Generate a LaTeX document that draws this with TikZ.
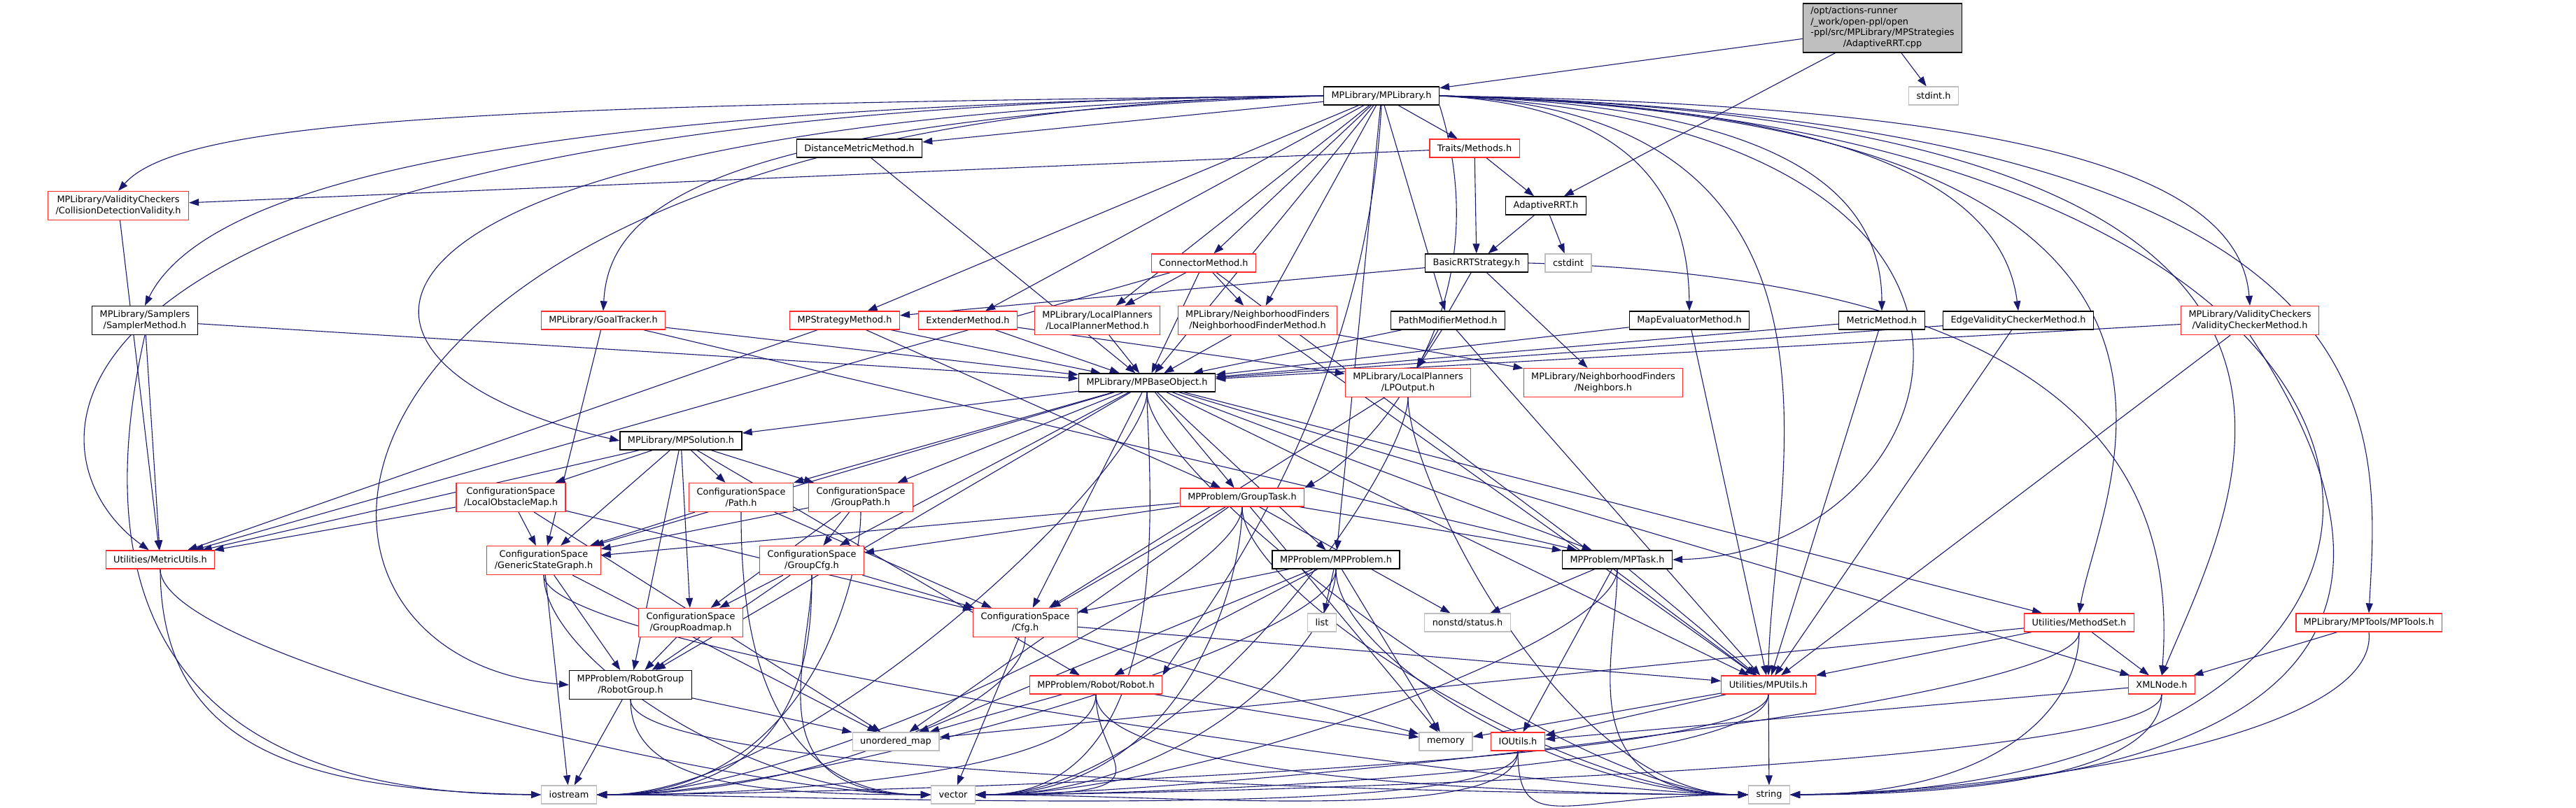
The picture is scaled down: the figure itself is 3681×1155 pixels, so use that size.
\documentclass[tikz,border=0pt]{standalone}
\usepackage{fontspec}
\setmainfont{DejaVu Sans}
\usepackage{tikz}
\usetikzlibrary{arrows.meta,backgrounds}
\usepackage{xcolor}
\definecolor{edgecol}{HTML}{191970}
\definecolor{extgray}{HTML}{BFBFBF}
\definecolor{truncred}{HTML}{FF2A2A}

\begin{document}
\begin{tikzpicture}[x=1pt, y=-1pt,
  every node/.style={font=\fontsize{12.9}{15.5}\selectfont},
  hdr/.style={rectangle, draw=black, line width=1.3pt, fill=white,
              inner xsep=11pt, inner ysep=2pt, minimum height=26pt, align=center},
  trunc/.style={hdr, draw=truncred},
  ext/.style={hdr, draw=extgray},
  rootbox/.style={hdr, fill=extgray, minimum height=70pt},
  two/.style={minimum height=41pt},
  dep/.style={draw=edgecol, line width=1.1pt, -{Triangle[length=14pt,width=10pt]}},
]
  \useasboundingbox (0,0) rectangle (3681,1155);

  \node[rootbox] (root) at (2690,40) {\begin{tabular}{@{}l@{}}/opt/actions-runner\\/\_work/open-ppl/open\\-ppl/src/MPLibrary/MPStrategies\\\multicolumn{1}{@{}c@{}}{/AdaptiveRRT.cpp}\end{tabular}};

  \node[hdr] (mplib) at (1974,137) {MPLibrary/MPLibrary.h};
  \node[ext] (stdint) at (2763,137) {stdint.h};
  \node[hdr] (distmetric) at (1228,212) {DistanceMetricMethod.h};
  \node[trunc] (methods) at (2107,212) {Traits/Methods.h};
  \node[trunc,two] (cdvalid) at (169,294) {MPLibrary/ValidityCheckers\\/CollisionDetectionValidity.h};
  \node[hdr] (adaptive) at (2209,294) {AdaptiveRRT.h};
  \node[trunc] (connector) at (1720,376) {ConnectorMethod.h};
  \node[hdr] (basicrrt) at (2110,376) {BasicRRTStrategy.h};
  \node[ext] (cstdint) at (2241,376) {cstdint};

  \node[hdr,two] (sampler) at (207,458) {MPLibrary/Samplers\\/SamplerMethod.h};
  \node[trunc] (goaltracker) at (862,458) {MPLibrary/GoalTracker.h};
  \node[trunc] (strategy) at (1207,458) {MPStrategyMethod.h};
  \node[trunc] (extender) at (1383,458) {ExtenderMethod.h};
  \node[trunc,two] (lpmethod) at (1568,458) {MPLibrary/LocalPlanners\\/LocalPlannerMethod.h};
  \node[trunc,two] (nfmethod) at (1797,458) {MPLibrary/NeighborhoodFinders\\/NeighborhoodFinderMethod.h};
  \node[hdr] (pathmod) at (2069,458) {PathModifierMethod.h};
  \node[hdr] (mapeval) at (2414,458) {MapEvaluatorMethod.h};
  \node[hdr] (metricm) at (2689,458) {MetricMethod.h};
  \node[hdr] (edgevc) at (2884,458) {EdgeValidityCheckerMethod.h};
  \node[trunc,two] (vcmethod) at (3215,458) {MPLibrary/ValidityCheckers\\/ValidityCheckerMethod.h};

  \node[hdr] (baseobj) at (1639,547) {MPLibrary/MPBaseObject.h};
  \node[trunc,two] (lpoutput) at (2012,547) {MPLibrary/LocalPlanners\\/LPOutput.h};
  \node[trunc,two] (neighbors) at (2291,547) {MPLibrary/NeighborhoodFinders\\/Neighbors.h};
  \node[hdr] (solution) at (973,630) {MPLibrary/MPSolution.h};

  \node[trunc,two] (obstmap) at (730,711) {ConfigurationSpace\\/LocalObstacleMap.h};
  \node[trunc,two] (path) at (1059,711) {ConfigurationSpace\\/Path.h};
  \node[trunc,two] (grouppath) at (1230,711) {ConfigurationSpace\\/GroupPath.h};
  \node[trunc] (grouptask) at (1775,711) {MPProblem/GroupTask.h};

  \node[trunc] (metricutils) at (229,800) {Utilities/MetricUtils.h};
  \node[trunc,two] (gsg) at (777,801) {ConfigurationSpace\\/GenericStateGraph.h};
  \node[trunc,two] (groupcfg) at (1160,801) {ConfigurationSpace\\/GroupCfg.h};
  \node[hdr] (mpproblem) at (1909,800) {MPProblem/MPProblem.h};
  \node[hdr] (mptask) at (2311,800) {MPProblem/MPTask.h};

  \node[trunc,two] (grouproadmap) at (987,890) {ConfigurationSpace\\/GroupRoadmap.h};
  \node[trunc,two] (cfg) at (1465,890) {ConfigurationSpace\\/Cfg.h};
  \node[ext] (list) at (1889,890) {list};
  \node[ext] (status) at (2097,890) {nonstd/status.h};
  \node[trunc] (methodset) at (2971,890) {Utilities/MethodSet.h};
  \node[trunc] (mptools) at (3385,890) {MPLibrary/MPTools/MPTools.h};

  \node[hdr,two] (robotgroup) at (901,979) {MPProblem/RobotGroup\\/RobotGroup.h};
  \node[trunc] (robot) at (1566,979) {MPProblem/Robot/Robot.h};
  \node[trunc] (mputils) at (2527,979) {Utilities/MPUtils.h};
  \node[trunc] (xmlnode) at (3089,979) {XMLNode.h};

  \node[ext] (umap) at (1280,1060) {unordered\_map};
  \node[ext] (memory) at (2066,1060) {memory};
  \node[trunc] (ioutils) at (2169,1060) {IOUtils.h};

  \node[ext] (iostream) at (813,1136) {iostream};
  \node[ext] (vector) at (1362,1136) {vector};
  \node[ext] (string) at (2528,1136) {string};

  \begin{scope}[on background layer]
    \foreach \s/\t in {root/mplib, root/adaptive, root/stdint,
        mplib/distmetric, mplib/methods, mplib/connector, mplib/strategy, mplib/extender,
        mplib/lpmethod, mplib/nfmethod, mplib/pathmod, mplib/baseobj, mplib/mpproblem,
        methods/adaptive, methods/basicrrt, methods/cdvalid,
        adaptive/basicrrt, adaptive/cstdint,
        basicrrt/strategy, basicrrt/lpoutput, basicrrt/neighbors,
        connector/lpmethod, connector/nfmethod, connector/baseobj, connector/metricutils, connector/mputils,
        distmetric/baseobj, cdvalid/metricutils,
        sampler/baseobj, sampler/metricutils,
        goaltracker/baseobj, goaltracker/gsg, goaltracker/mptask,
        strategy/baseobj, strategy/metricutils, strategy/grouptask,
        extender/baseobj, extender/lpoutput, lpmethod/baseobj,
        nfmethod/baseobj, nfmethod/neighbors, nfmethod/mputils,
        pathmod/baseobj, pathmod/lpoutput, pathmod/mputils,
        mapeval/baseobj, mapeval/mputils, metricm/baseobj, metricm/mputils,
        edgevc/baseobj, edgevc/mputils, vcmethod/baseobj, vcmethod/mputils,
        baseobj/solution, baseobj/path, baseobj/grouppath, baseobj/gsg, baseobj/groupcfg,
        baseobj/cfg, baseobj/grouptask, baseobj/mpproblem, baseobj/mptask, baseobj/methodset,
        baseobj/mputils, baseobj/xmlnode, baseobj/robotgroup,
        lpoutput/cfg,
        solution/obstmap, solution/path, solution/grouppath, solution/gsg, solution/grouproadmap,
        solution/metricutils, solution/robotgroup, solution/robot,
        obstmap/metricutils, obstmap/gsg, obstmap/cfg, obstmap/umap,
        path/gsg, path/cfg,
        grouppath/groupcfg, grouppath/grouproadmap, grouppath/gsg,
        grouptask/gsg, grouptask/groupcfg, grouptask/cfg, grouptask/mptask, grouptask/status,
        grouptask/memory, grouptask/umap,
        gsg/robotgroup, gsg/iostream, gsg/umap,
        groupcfg/grouproadmap, groupcfg/robotgroup, groupcfg/cfg,
        grouproadmap/robotgroup,
        mpproblem/cfg, mpproblem/robot, mpproblem/list, mpproblem/memory, mpproblem/umap,
        mptask/status, mptask/mputils, mptask/ioutils,
        cfg/mputils, cfg/vector, cfg/memory,
        robotgroup/iostream, robotgroup/umap,
        robot/umap, robot/memory,
        methodset/mputils, methodset/xmlnode, methodset/umap,
        mptools/xmlnode, xmlnode/ioutils,
        mputils/string, mputils/ioutils, mputils/memory}
      \draw[dep] (\s) -- (\t);

    % into the bottom headers from their left side
    \foreach \s/\t in {path/vector, gsg/vector, groupcfg/vector, robotgroup/vector, metricutils/vector,
        baseobj/string, lpoutput/string, grouptask/string, gsg/string, mpproblem/string,
        mptask/string, robotgroup/string, robot/string, ioutils/string}
      \draw[dep] (\s) .. controls +(0,140) and +(-260,0) .. (\t.west);

    % into the bottom headers from their right side
    \foreach \s/\t in {baseobj/iostream, grouppath/iostream, grouptask/iostream, groupcfg/iostream,
        mpproblem/iostream, cfg/iostream, robot/iostream, mputils/iostream, ioutils/iostream,
        baseobj/vector, lpoutput/vector, grouptask/vector, mpproblem/vector, mptask/vector,
        robot/vector, methodset/vector, xmlnode/vector, mputils/vector, ioutils/vector,
        methodset/string, xmlnode/string}
      \draw[dep] (\s) .. controls +(0,120) and +(300,0) .. (\t.east);

    % long splines
    \draw[dep] (mplib.west) .. controls (700,150) and (260,170) .. (cdvalid.north);
    \draw[dep] (mplib.west) .. controls (800,150) and (300,250) .. (sampler.north);
    \draw[dep] (mplib.west) .. controls (10,150) and (10,640) .. (metricutils.140);
    \draw[dep] (mplib.west) .. controls (380,160) and (330,940) .. (robotgroup.west);
    \draw[dep] (mplib.west) .. controls (420,170) and (400,520) .. (solution.west);
    \draw[dep] (mplib.west) .. controls (1000,170) and (870,300) .. (goaltracker.north);
    \draw[dep] (mplib.east) .. controls (2300,150) and (2412,250) .. (mapeval.north);
    \draw[dep] (mplib.east) .. controls (2500,150) and (2689,250) .. (metricm.north);
    \draw[dep] (mplib.east) .. controls (2600,150) and (2860,250) .. (edgevc.north);
    \draw[dep] (mplib.east) .. controls (2900,150) and (3200,250) .. (vcmethod.north);
    \draw[dep] (mplib.east) .. controls (3000,180) and (2800,790) .. (mptask.east);
    \draw[dep] (mplib.east) .. controls (3300,170) and (3000,700) .. (methodset.north);
    \draw[dep] (mplib.east) .. controls (3450,170) and (3400,600) .. (mptools.north);
    \draw[dep] (mplib.east) .. controls (3500,170) and (3200,700) .. (xmlnode.north);
    \draw[dep] (mplib.east) .. controls (2700,160) and (2530,700) .. (mputils.north);
    \draw[dep] (mplib.east) .. controls (3620,170) and (3660,1130) .. (string.east);
    \draw[dep] (mplib.south) .. controls (1950,600) and (1700,900) .. (robot.north east);
    \draw[dep] (mplib.south east) .. controls (2150,450) and (1950,650) .. (grouptask.north east);
    \draw[dep] (sampler.south) .. controls (90,1000) and (400,1136) .. (iostream.west);
    \draw[dep] (metricutils.south) .. controls (230,1080) and (450,1130) .. (iostream.west);
    \draw[dep] (basicrrt.east) .. controls (3000,400) and (3110,700) .. (xmlnode.north);
    \draw[dep] (vcmethod.south) .. controls (3560,1000) and (3100,1130) .. (string.east);
    \draw[dep] (mptools.south) .. controls (3400,1050) and (2900,1130) .. (string.east);
  \end{scope}
\end{tikzpicture}
\end{document}
